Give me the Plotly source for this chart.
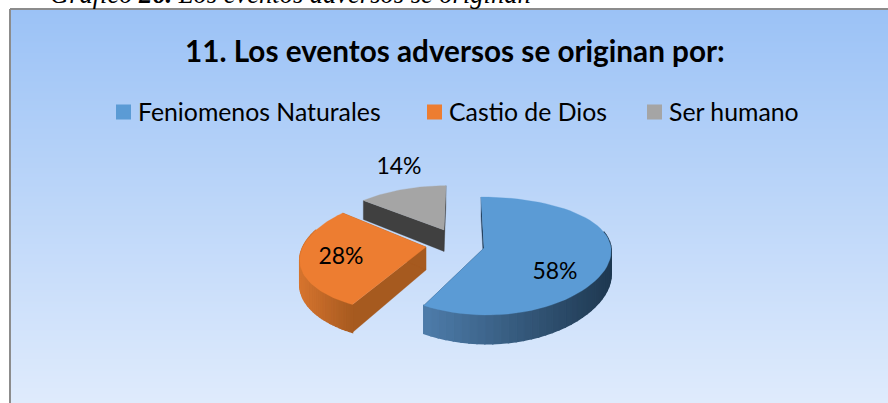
import math
import plotly.graph_objects as go

# ---- data ----
categories = ["Feniomenos Naturales", "Castio de Dios", "Ser humano"]
values = [58, 28, 14]
title_text = "11. Los eventos adversos se originan por:"
caption_text = "Gráfico <b>26.</b> Los eventos adversos se originan"

# ---- style / layout (pixel space of the 888x403 canvas) ----
W, H = 888, 403
BOX_L, BOX_T = 10, 9
TOP_COLORS = ["#5B9BD5", "#ED7D31", "#A5A5A5"]
WALL_COLORS = ["#1F3A55", "#A65A1F", "#404040"]
RIM_LEFT = [(78, 124, 170), (214, 116, 46), (90, 90, 90)]
RIM_RIGHT = [(30, 56, 80), (166, 90, 32), (70, 70, 70)]
GEOM = [
    dict(apex=(484, 248), kx=0.03, sx=1.0, sy=1.0, lean=-3),
    dict(apex=(426, 247), kx=0.22, sx=0.97, sy=1.0, lean=0),
    dict(apex=(444, 230), kx=0.22, sx=0.955, sy=0.87, lean=2),
]
LABEL_POS = [(555, 273), (341, 258), (399, 168)]
LEGEND_MARK_X = [123.5, 434.5, 654.5]
LEGEND_TEXT_X = [135.5, 446.5, 666.5]
LEGEND_MARK_Y = 112
LEGEND_TEXT_Y = 111
RX, RY, KY, DEPTH, KD = 127.0, 57.9, 0.136, 23.0, 0.2


def rgb(c):
    return f"rgb({c[0]:.0f},{c[1]:.0f},{c[2]:.0f})"


def project(t, g):
    X, Y = math.sin(t), math.cos(t)
    x = g["apex"][0] + g["sx"] * RX * X / (1 + g["kx"] * Y) + g["lean"] * Y
    y = g["apex"][1] - g["sy"] * RY * Y / (1 + KY * Y)
    return x, y, DEPTH * (g["sy"] ** 0.5) / (1 + KD * Y)


def poly(xs, ys, color, width=1.0):
    return go.Scatter(x=xs, y=ys, mode="lines", fill="toself", fillcolor=color,
                      line=dict(color=color, width=width), hoverinfo="skip",
                      showlegend=False)


traces = []

# gradient panel behind the chart
N_ROWS = H - BOX_T
traces.append(go.Heatmap(
    x=[BOX_L, W], y=[BOX_T + i for i in range(N_ROWS + 1)],
    z=[[i / (N_ROWS - 1)] for i in range(N_ROWS)],
    zmin=0, zmax=1, showscale=False, hoverinfo="skip",
    colorscale=[[0, "#9BC2F6"], [1, "#DFEBFC"]],
))

# slices, back to front
fracs = [v / sum(values) for v in values]
starts = [sum(fracs[:i]) for i in range(len(fracs))]
for i in [2, 1, 0]:
    g = GEOM[i]
    a0 = 2 * math.pi * starts[i]
    a1 = a0 + 2 * math.pi * fracs[i]
    ax, ay = g["apex"]
    d_apex = DEPTH * (g["sy"] ** 0.5)

    # radial walls
    for a in (a0, a1):
        x, y, d = project(a, g)
        traces.append(poly([ax, x, x, ax, ax], [ay, y, y + d, ay + d_apex, ay], WALL_COLORS[i], 0.3))

    # outer rim, shaded left to right
    n = 60
    grid = [a0 + (a1 - a0) * k / n for k in range(n + 1)]
    pts = [project(a, g) for a in grid]
    front = [k for k in range(n) if math.cos(grid[k]) < 0.3]
    if front:
        xs_front = [pts[k][0] for k in front] + [pts[front[-1] + 1][0]]
        xmin, xmax = min(xs_front), max(xs_front)
        for k in front:
            x0, y0, d0 = pts[k]
            x1, y1, d1 = pts[k + 1]
            f = ((x0 + x1) / 2 - xmin) / max(xmax - xmin, 1)
            c = [RIM_LEFT[i][j] + (RIM_RIGHT[i][j] - RIM_LEFT[i][j]) * f for j in range(3)]
            traces.append(poly([x0, x1, x1, x0, x0], [y0, y1, y1 + d1, y0 + d0, y0], rgb(c), 1.5))

    # top face
    traces.append(poly([ax] + [p[0] for p in pts] + [ax],
                       [ay] + [p[1] for p in pts] + [ay], TOP_COLORS[i], 0.3))

# data labels
traces.append(go.Scatter(
    x=[p[0] for p in LABEL_POS], y=[p[1] for p in LABEL_POS],
    text=[f"{v}%" for v in values], mode="text",
    textfont=dict(family="Lato", size=23, color="#000000"),
    textposition="middle center", hoverinfo="skip", showlegend=False,
))

# legend row: swatches
for name, color, mx in zip(categories, TOP_COLORS, LEGEND_MARK_X):
    traces.append(go.Scatter(x=[mx], y=[LEGEND_MARK_Y], mode="markers", name=name,
                             marker=dict(symbol="square", size=15, color=color, line=dict(width=0)),
                             hoverinfo="skip", showlegend=False, cliponaxis=False))

legend_notes = [
    dict(text=name, x=tx, y=LEGEND_TEXT_Y, xref="x", yref="y", showarrow=False,
         xanchor="left", yanchor="middle",
         font=dict(family="Lato", size=24.8, color="#000000"))
    for name, tx in zip(categories, LEGEND_TEXT_X)
]

fig = go.Figure(traces)
fig.update_layout(
    width=W, height=H, margin=dict(l=0, r=0, t=0, b=0),
    paper_bgcolor="#FFFFFF", plot_bgcolor="#FFFFFF",
    xaxis=dict(range=[0, W], visible=False, fixedrange=True),
    yaxis=dict(range=[H, 0], visible=False, fixedrange=True),
    font=dict(family="Lato", color="#000000"),
    showlegend=False,
    shapes=[
        dict(type="line", xref="x", yref="y", x0=BOX_L, x1=BOX_L, y0=BOX_T, y1=H,
             line=dict(color="#8C8C8C", width=2)),
        dict(type="line", xref="x", yref="y", x0=BOX_L, x1=W, y0=BOX_T, y1=BOX_T,
             line=dict(color="#8C8C8C", width=2)),
    ],
    annotations=[
        dict(text=f"<b>{title_text}</b>", x=455, y=50, xref="x", yref="y",
             showarrow=False, xanchor="center", yanchor="middle",
             font=dict(family="Lato", size=29.7, color="#000000")),
        dict(text=f"<i>{caption_text}</i>", x=48, y=11, xref="x", yref="y",
             showarrow=False, xanchor="left", yanchor="bottom",
             font=dict(family="Liberation Serif", size=26.5, color="#000000")),
    ] + legend_notes,
)
fig.write_html("out.html", post_script="document.body.style.margin='0';", config={"displayModeBar": False})
